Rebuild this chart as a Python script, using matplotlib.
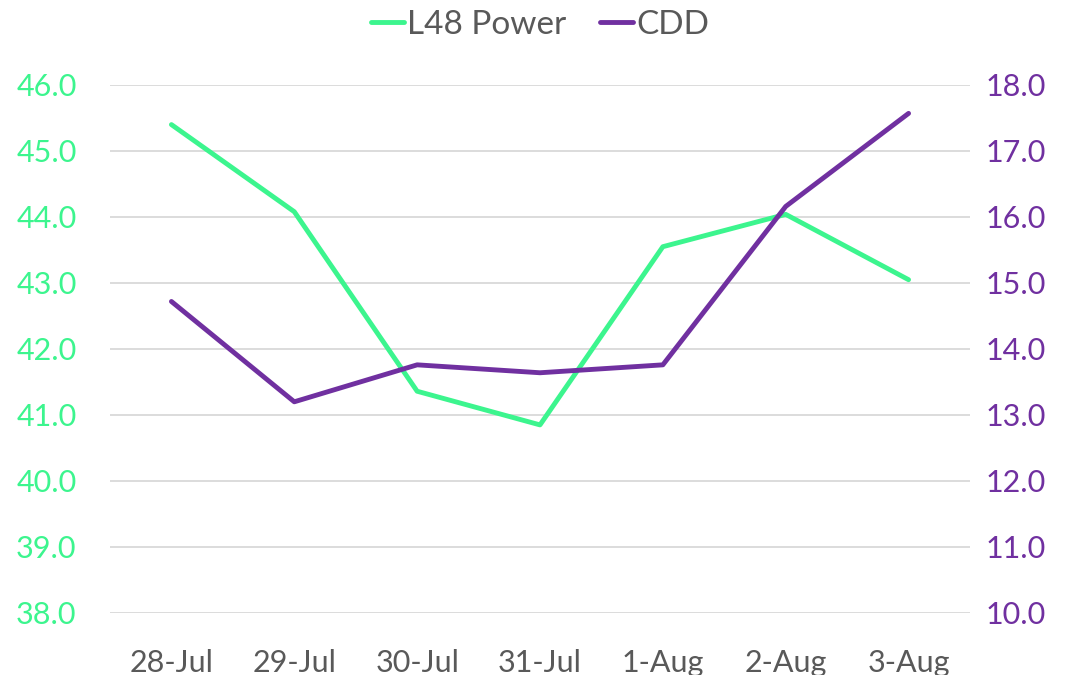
import matplotlib.pyplot as plt
import numpy as np

plt.rcParams['font.family'] = ['Lato', 'DejaVu Sans']

dates = ["28-Jul", "29-Jul", "30-Jul", "31-Jul", "1-Aug", "2-Aug", "3-Aug"]
l48_power = [45.40, 44.08, 41.36, 40.85, 43.55, 44.04, 43.05]
cdd = [14.72, 13.20, 13.76, 13.64, 13.76, 16.16, 17.57]

green = "#3CF58E"
purple = "#7030A0"
grey_text = "#595959"

fig = plt.figure(figsize=(10.8, 6.75), dpi=100)
ax = fig.add_axes([110 / 1080, 62 / 675, 860 / 1080, 528 / 675])
ax2 = ax.twinx()

x = np.arange(len(dates))
l1, = ax.plot(x, l48_power, color=green, lw=3.5, label="L48 Power", solid_capstyle="round")
l2, = ax2.plot(x, cdd, color=purple, lw=3.5, label="CDD", solid_capstyle="round")

ax.set_xlim(-0.5, len(dates) - 0.5)
ax.set_ylim(38, 46)
ax2.set_ylim(10, 18)
ax.set_yticks(np.arange(38, 46.1, 1))
ax2.set_yticks(np.arange(10, 18.1, 1))
ax.yaxis.set_major_formatter(plt.FuncFormatter(lambda v, p: f"{v:.1f}"))
ax2.yaxis.set_major_formatter(plt.FuncFormatter(lambda v, p: f"{v:.1f}"))
ax.set_xticks(x)
ax.set_xticklabels(dates)

ax.grid(axis="y", color="#D9D9D9", lw=1.3)
ax.set_axisbelow(True)
for a in (ax, ax2):
    for s in a.spines.values():
        s.set_visible(False)
    a.tick_params(length=0)

ax.tick_params(axis="y", labelcolor=green, labelsize=22, pad=24)
ax2.tick_params(axis="y", labelcolor=purple, labelsize=22, pad=11)
ax.tick_params(axis="x", labelcolor=grey_text, labelsize=22, pad=26)

fig.legend(handles=[l1, l2], loc="upper center", bbox_to_anchor=(0.5, 1.03), ncol=2,
           frameon=False, fontsize=24, handlelength=1.0, handletextpad=0.1,
           columnspacing=1.0, labelcolor=grey_text)

fig.savefig("out.png", dpi=100)
